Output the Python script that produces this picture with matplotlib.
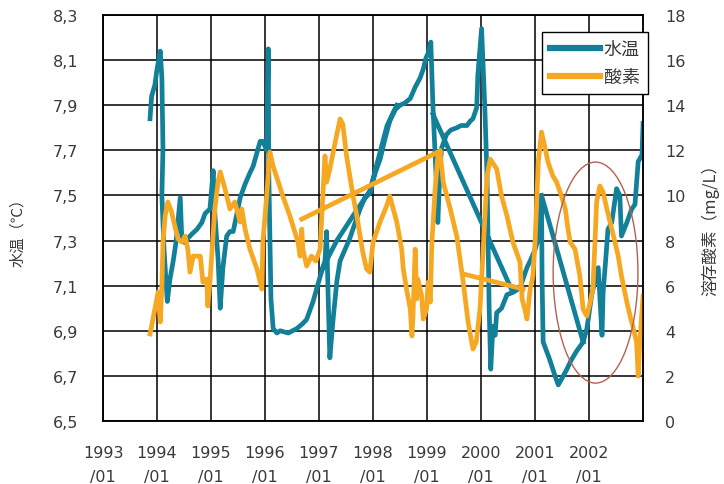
import numpy as np
import matplotlib.pyplot as plt
from matplotlib.patches import Ellipse

plt.rcParams['font.family'] = ['Noto Sans CJK JP', 'DejaVu Sans']

nan = np.nan

# 水温 (left axis); nan splits off the out-of-order stretches
temp_year = [1993.87, 1993.90, 1993.96, 1994.00, 1994.06, 1994.09, 1994.11, 1994.09, 1994.13, 1994.19,
             1994.24, 1994.30, 1994.35, 1994.43, 1994.46, 1994.52, 1994.57, 1994.65, 1994.74, 1994.83,
             1994.89, 1994.98, 1995.04, 1995.07, 1995.13, 1995.17, 1995.22, 1995.29, 1995.35, 1995.41,
             1995.48, 1995.54, 1995.63, 1995.72, 1995.78, 1995.85, 1995.91, 1995.96, 1996.03, 1996.06,
             1996.07, 1996.11, 1996.15, 1996.22, 1996.28, 1996.43, 1996.59, 1996.69, 1996.77, 1996.89,
             1997.02, 1997.11, 1997.14, 1997.17, 1997.20, 1997.26, 1997.33, 1997.39, 1997.48, 1997.57,
             1997.67, 1997.76, 1997.85, 1997.94, 1998.04, 1998.13, 1998.22, 1998.31, 1998.41, 1998.50,
             1998.59, 1998.69, 1998.78, 1998.87, 1998.93, 1998.98, 1999.02, 1999.07, 1999.11, 1999.18,
             1999.20, 1999.24, 1999.27, 1999.36, 1999.44, 1999.55, 1999.63, 1999.74, 1999.80, 1999.85,
             1999.92, 1999.94, 2000.01, 2000.07, 2000.11, 2000.15, 2000.18, 2000.22, 2000.26, 2000.29,
             2000.38, 2000.48, 2000.59, 2000.72, 2000.85, 2000.91, 2001.00, 2001.06, 2001.12, 2001.13,
             2001.15, 2001.26, 2001.37, 2001.43, 2001.50, 2001.59, 2001.67, 2001.77, 2001.89, 2001.96,
             2002.05, 2002.11, 2002.17, 2002.24, 2002.26, 2002.31, 2002.35, 2002.42, 2002.51, 2002.57,
             2002.60, 2002.70, 2002.79, 2002.85, 2002.91, 2002.98, 2003.00,
             nan, 1997.07, 1997.33, 1997.63, 1997.94, 1998.26, 1998.44,
             nan, 1999.11, 2000.57,
             nan, 2001.12, 2001.89]
temp_val = [7.84, 7.94, 7.99, 8.06, 8.14, 8.02, 7.71, 7.50, 7.26, 7.03,
            7.13, 7.21, 7.29, 7.49, 7.30, 7.29, 7.31, 7.33, 7.35, 7.38,
            7.42, 7.44, 7.61, 7.42, 7.22, 7.00, 7.18, 7.32, 7.34, 7.34,
            7.42, 7.49, 7.55, 7.60, 7.63, 7.69, 7.74, 7.74, 7.70, 8.15,
            7.59, 7.04, 6.91, 6.89, 6.90, 6.89, 6.91, 6.93, 6.95, 7.03,
            7.14, 7.21, 7.34, 7.04, 6.78, 6.95, 7.12, 7.21, 7.26, 7.31,
            7.38, 7.44, 7.49, 7.51, 7.60, 7.66, 7.75, 7.83, 7.88, 7.90,
            7.91, 7.93, 7.98, 8.02, 8.06, 8.11, 8.13, 8.18, 7.89, 7.52,
            7.38, 7.62, 7.71, 7.77, 7.79, 7.80, 7.81, 7.81, 7.83, 7.84,
            7.89, 8.03, 8.24, 7.89, 7.59, 7.00, 6.73, 6.92, 6.88, 6.98,
            7.00, 7.06, 7.07, 7.09, 7.18, 7.21, 7.26, 7.31, 7.50, 7.13,
            6.85, 6.78, 6.70, 6.66, 6.69, 6.73, 6.77, 6.81, 6.85, 6.91,
            7.06, 7.12, 7.18, 6.88, 7.07, 7.22, 7.35, 7.38, 7.53, 7.50,
            7.32, 7.38, 7.44, 7.46, 7.65, 7.68, 7.82,
            nan, 7.18, 7.30, 7.41, 7.52, 7.81, 7.90,
            nan, 7.86, 7.08,
            nan, 7.50, 6.85]

# 酸素 (right axis, mg/L)
oxy_year = [1993.87, 1993.90, 1993.96, 1994.02, 1994.06, 1994.09, 1994.11, 1994.15, 1994.20, 1994.27,
            1994.33, 1994.39, 1994.46, 1994.52, 1994.57, 1994.61, 1994.67, 1994.80, 1994.85, 1994.92,
            1994.94, 1994.98, 1995.07, 1995.13, 1995.17, 1995.26, 1995.35, 1995.44, 1995.54, 1995.57,
            1995.63, 1995.72, 1995.85, 1995.94, 1995.96, 1996.03, 1996.09, 1996.15, 1996.33, 1996.46,
            1996.61, 1996.65, 1996.68, 1996.70, 1996.77, 1996.86, 1996.94, 1997.02, 1997.07, 1997.11,
            1997.14, 1997.20, 1997.30, 1997.39, 1997.44, 1997.51, 1997.57, 1997.63, 1997.70, 1997.76,
            1997.81, 1997.88, 1997.94, 1998.00, 1998.13, 1998.25, 1998.31, 1998.44, 1998.53, 1998.56,
            1998.62, 1998.69, 1998.72, 1998.74, 1998.78, 1998.81, 1998.83, 1998.90, 1998.93, 1998.99,
            1999.02, 1999.06, 1999.09, 1999.15, 1999.20, 1999.24, 1999.30, 1999.43, 1999.55, 1999.67,
            1999.76, 1999.85, 1999.91, 1999.98, 2000.04, 2000.11, 2000.17, 2000.29, 2000.38, 2000.48,
            2000.59, 2000.72, 2000.76, 2000.81, 2000.85, 2000.91, 2000.96, 2001.00, 2001.06, 2001.12,
            2001.19, 2001.24, 2001.33, 2001.40, 2001.49, 2001.56, 2001.61, 2001.65, 2001.74, 2001.83,
            2001.89, 2001.96, 2002.02, 2002.07, 2002.11, 2002.14, 2002.20, 2002.26, 2002.33, 2002.39,
            2002.48, 2002.54, 2002.60, 2002.70, 2002.76, 2002.81, 2002.88, 2002.91, 2002.94, 2003.00,
            nan, 1996.68, 1999.24,
            nan, 1999.67, 2000.78]
oxy_val = [3.86, 4.21, 4.96, 5.72, 4.39, 5.98, 7.93, 9.09, 9.71, 9.26,
           8.64, 8.07, 7.93, 8.20, 7.62, 6.60, 7.31, 7.31, 6.16, 6.29,
           5.10, 6.16, 9.40, 10.59, 11.04, 10.28, 9.40, 9.71, 8.82, 9.40,
           8.51, 7.62, 6.74, 5.85, 7.93, 9.97, 11.92, 11.30, 9.97, 9.09,
           7.93, 7.31, 8.51, 7.62, 6.87, 7.31, 7.09, 7.62, 9.97, 11.75,
           10.59, 11.17, 12.37, 13.39, 13.16, 11.75, 10.86, 9.97, 9.09, 8.20,
           7.49, 6.74, 6.60, 7.93, 8.82, 9.53, 9.97, 8.82, 7.62, 6.74,
           5.85, 4.96, 3.77, 4.65, 7.62, 5.41, 6.29, 5.54, 4.52, 4.96,
           6.16, 5.27, 7.93, 10.28, 11.75, 11.97, 10.59, 9.40, 8.20, 6.16,
           4.39, 3.19, 3.50, 4.96, 7.62, 10.86, 11.61, 11.17, 9.97, 9.09,
           7.93, 7.05, 5.41, 4.96, 4.52, 5.85, 6.43, 7.93, 11.48, 12.81,
           12.06, 11.48, 10.86, 10.59, 9.97, 9.40, 8.51, 7.93, 7.62, 6.43,
           4.96, 4.65, 5.27, 5.85, 7.93, 9.71, 10.42, 10.15, 9.40, 8.82,
           7.93, 7.31, 6.43, 5.27, 4.65, 4.21, 3.50, 1.99, 3.50, 5.54,
           nan, 8.95, 11.97,
           nan, 6.52, 5.85]

year_ticks = list(range(1993, 2003))
year_labels = [f'{y}\n/01' for y in year_ticks]
temp_ticks = [6.5, 6.7, 6.9, 7.1, 7.3, 7.5, 7.7, 7.9, 8.1, 8.3]
temp_labels = [f'{t:.1f}'.replace('.', ',') for t in temp_ticks]
oxy_ticks = list(range(0, 19, 2))

teal = '#13809a'
orange = '#f7a823'
txt = '#3a3a3a'
num_font = 'DejaVu Sans'

fig = plt.figure(figsize=(7.24, 4.85), dpi=100)
ax = fig.add_axes([0.1423, 0.1299, 0.7459, 0.8371])
ax2 = ax.twinx()

l1, = ax.plot(temp_year, temp_val, color=teal, lw=3.4, solid_joinstyle='round', label='水温')
l2, = ax2.plot(oxy_year, oxy_val, color=orange, lw=3.4, solid_joinstyle='round', label='酸素')

ax.set_xlim(1993, 2003)
ax.set_ylim(6.5, 8.3)
ax2.set_ylim(0, 18)

ax.set_xticks(year_ticks)
ax.set_xticklabels(year_labels, linespacing=1.75, family=num_font)
ax.set_yticks(temp_ticks)
ax.set_yticklabels(temp_labels, family=num_font)
ax2.set_yticks(oxy_ticks)
ax2.set_yticklabels([str(t) for t in oxy_ticks], family=num_font)

ax.grid(True, color='black', lw=1.1)
ax.set_axisbelow(True)
ax.tick_params(axis='x', length=0, pad=17, labelsize=11.5, labelcolor=txt)
ax.tick_params(axis='y', length=0, pad=18, labelsize=11.5, labelcolor=txt)
ax2.tick_params(axis='y', length=0, pad=16, labelsize=11.5, labelcolor=txt)
for a in (ax, ax2):
    for s in a.spines.values():
        s.set_color('black')
        s.set_linewidth(1.1)

ax.set_ylabel('水温（℃）', fontsize=11, color=txt)
ax.yaxis.set_label_coords(-0.143, 0.475)
ax2.set_ylabel('溶存酸素（mg/L）', fontsize=12, color=txt, rotation=90)
ax2.yaxis.set_label_coords(1.107, 0.483)

# circled area, 2001-2002
ax2.add_patch(Ellipse((2002.12, 6.58), 1.57, 9.8, fill=False, ec='#b5604f', lw=1.0, zorder=5))

leg = ax2.legend(handles=[l1, l2], loc='upper right', bbox_to_anchor=(1.009, 0.958),
                 borderaxespad=0, fancybox=False, framealpha=1, edgecolor='black',
                 fontsize=13, handlelength=2.8, handletextpad=0.2, borderpad=0.45,
                 labelspacing=0.55)
leg.get_frame().set_linewidth(1.0)
for t in leg.get_texts():
    t.set_color(txt)
for h in leg.get_lines():
    h.set_linewidth(4.5)

fig.savefig('out.png', dpi=100)
